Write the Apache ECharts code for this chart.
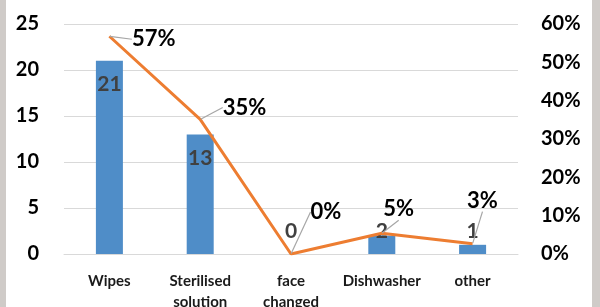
<!DOCTYPE html>
<html>
<head>
<meta charset="utf-8">
<script src="https://cdn.jsdelivr.net/npm/echarts@6/dist/echarts.min.js"></script>
<style>
html,body{margin:0;padding:0;background:#fff;}
#wrap{position:relative;width:600px;height:307px;background:#fff;}
#lb{position:absolute;left:0;top:0;width:6px;height:307px;background:#cfcbc8;}
#rb{position:absolute;left:592px;top:0;width:8px;height:307px;background:#cfcbc8;}
#chart{position:absolute;left:0;top:0;width:600px;height:307px;}
</style>
</head>
<body>
<div id="wrap"><div id="lb"></div><div id="rb"></div><div id="chart"></div></div>
<script>
const categories = ["Wipes", "Sterilised solution", "face changed", "Dishwasher", "other"];
const counts = [21, 13, 0, 2, 1];
const percents = [56.8, 35.1, 0, 5.4, 2.7];
const leftTicks = [0, 5, 10, 15, 20, 25];
const rightTicks = [0, 10, 20, 30, 40, 50, 60];

const pctOffsets = [[22, 3], [22, -12], [19, -42], [1, -24], [-6, -43]];
const FONT = 'Lato, "Liberation Sans", sans-serif';

const chart = echarts.init(document.getElementById('chart'), null, {renderer: 'canvas'});
chart.setOption({
  animation: false,
  grid: {left: 64, right: 82, top: 24, bottom: 53, containLabel: false, outerBoundsMode: 'none'},
  xAxis: {
    type: 'category',
    data: categories,
    axisLine: {show: true, lineStyle: {color: '#d9d9d9', width: 1}},
    axisTick: {show: false},
    axisLabel: {
      interval: 0, margin: 17, fontFamily: FONT, fontWeight: 'bold', fontSize: 15,
      color: '#1a1a1a', lineHeight: 21,
      formatter: v => v.replace(' ', '\n')
    }
  },
  yAxis: [{
    type: 'value', min: leftTicks[0], max: leftTicks[leftTicks.length - 1], interval: 5,
    axisLine: {show: false}, axisTick: {show: false},
    splitLine: {lineStyle: {color: '#d9d9d9', width: 1}},
    axisLabel: {margin: 25, fontFamily: FONT, fontWeight: 'bold', fontSize: 20, color: '#000'}
  }, {
    type: 'value', min: rightTicks[0], max: rightTicks[rightTicks.length - 1], interval: 10,
    alignTicks: false,
    axisLine: {show: false}, axisTick: {show: false}, splitLine: {show: false},
    axisLabel: {margin: 23, fontFamily: FONT, fontWeight: 'bold', fontSize: 20, color: '#000',
      formatter: v => v + '%'}
  }],
  series: [{
    type: 'bar',
    data: counts.map(v => ({
      value: v,
      label: v >= 5 ? {position: 'insideTop', distance: 13} : {position: 'insideBottom', distance: 12}
    })),
    barWidth: 27,
    itemStyle: {color: '#4f8dc8'},
    label: {show: true, fontFamily: FONT, fontWeight: 'bold', fontSize: 21, color: '#404040'}
  }, {
    type: 'line',
    yAxisIndex: 1,
    data: percents,
    symbol: 'circle',
    symbolSize: 1,
    showSymbol: true,
    lineStyle: {color: '#ed7d31', width: 3},
    itemStyle: {color: 'rgba(0,0,0,0)', borderWidth: 0},
    label: {
      show: true, position: 'right', distance: 0,
      fontFamily: FONT, fontWeight: 'bold', fontSize: 22, color: '#000',
      formatter: p => Math.round(p.value) + '%'
    },
    labelLine: {show: true, lineStyle: {color: '#a6a6a6', width: 1.2}},
    labelLayout: p => ({dx: pctOffsets[p.dataIndex][0], dy: pctOffsets[p.dataIndex][1]})
  }]
});
</script>
</body>
</html>
